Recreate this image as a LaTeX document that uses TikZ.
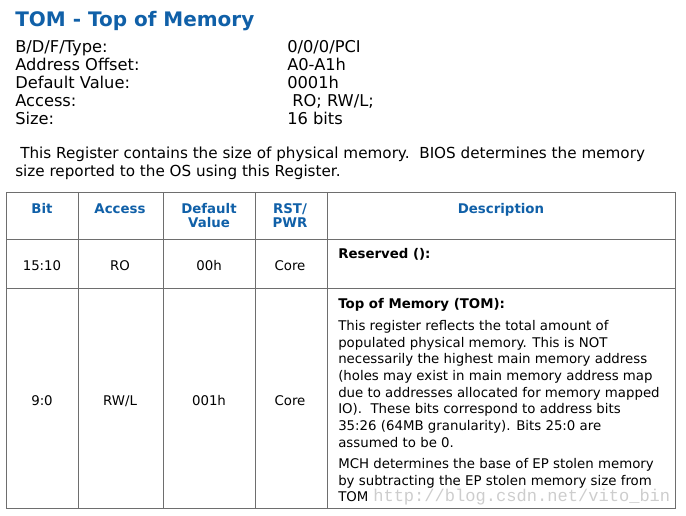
\documentclass[tikz,border=0pt]{standalone}
\usepackage{fontspec}
\setmainfont{DejaVu Sans}
\newfontfamily\markfont{Liberation Mono}
\usepackage{xcolor}
\definecolor{intelblue}{RGB}{16,96,168}
\definecolor{rulegray}{RGB}{110,110,110}
\definecolor{markgray}{RGB}{205,205,205}

\tikzset{
  txt/.style={inner sep=0pt,anchor=base west,font=\fontsize{10}{12.5}\selectfont},
  info/.style={txt,font=\fontsize{12.2}{13.5}\selectfont},
  cell/.style={inner sep=0pt,anchor=base,font=\fontsize{10}{12.5}\selectfont},
  head/.style={inner sep=0pt,anchor=base,align=center,text=intelblue,
    font=\fontsize{10}{10.5}\selectfont\bfseries},
  rule/.style={rulegray,line width=0.75pt}
}

\begin{document}
\begin{tikzpicture}[x=0.75pt,y=-0.75pt]
        \useasboundingbox (0,0) rectangle (686,515);

        % title
        \node[txt,text=intelblue,font=\fontsize{15}{16}\selectfont\bfseries] (title) at (15,26) {TOM - Top of Memory};

        % register info
        \node[info] (bdf) at (15,52) {B/D/F/Type:};
        \node[info] (offs) at (15,70) {Address Offset:};
        \node[info] (defv) at (15,88) {Default Value:};
        \node[info] (acc) at (15,106) {Access:};
        \node[info] (size) at (15,124) {Size:};
        \node[info] (bdfval) at (287,52) {0/0/0/PCI};
        \node[info] (offsval) at (287,70) {A0-A1h};
        \node[info] (defvval) at (287,88) {0001h};
        \node[info] (accval) at (292,106) {RO; RW/L;};
        \node[info] (sizeval) at (287,124) {16 bits};

        % intro text
        \node[info,font=\fontsize{11.4}{13.5}\selectfont] (intro1) at (20,158) {This Register contains the size of physical memory.\ \ BIOS determines the memory};
        \node[info,font=\fontsize{11.4}{13.5}\selectfont] (intro2) at (15,176) {size reported to the OS using this Register.};

        % table rules
        \draw[rule] (6,192) rectangle (675,508);
        \draw[rule] (6,239) -- (675,239);
        \draw[rule] (6,288) -- (675,288);
        \draw[rule] (78,192) -- (78,508);
        \draw[rule] (163,192) -- (163,508);
        \draw[rule] (255,192) -- (255,508);
        \draw[rule] (327,192) -- (327,508);

        % header
        \node[head] (hbit) at (42,213) {Bit};
        \node[head] (hacc) at (120,213) {Access};
        \node[head] (hdef) at (209,227) {Default\\Value};
        \node[head] (hrst) at (290,227) {RST/\\PWR};
        \node[head] (hdesc) at (501,213) {Description};

        % row 15:10
        \node[cell] (bitA) at (42,270) {15:10};
        \node[cell] (accA) at (120,270) {RO};
        \node[cell] (defA) at (209,270) {00h};
        \node[cell] (rstA) at (290,270) {Core};
        \node[txt,font=\fontsize{10}{12.5}\selectfont\bfseries] (descA) at (338,258) {Reserved ():};

        % row 9:0
        \node[cell] (bitB) at (42,405) {9:0};
        \node[cell] (accB) at (120,405) {RW/L};
        \node[cell] (defB) at (209,405) {001h};
        \node[cell] (rstB) at (290,405) {Core};
        \node[txt,font=\fontsize{10}{12.5}\selectfont\bfseries] (descB) at (338,308) {Top of Memory (TOM):};
        \node[txt,align=left,anchor=north west] (descB1) at (338,320) {This register reflects the total amount of\\
          populated physical memory. This is NOT\\
          necessarily the highest main memory address\\
          (holes may exist in main memory address map\\
          due to addresses allocated for memory mapped\\
          IO).\ \ These bits correspond to address bits\\
          35:26 (64MB granularity). Bits 25:0 are\\
          assumed to be 0.};
        \node[txt,align=left,anchor=north west] (descB2) at (338,458) {MCH determines the base of EP stolen memory\\
          by subtracting the EP stolen memory size from\\
          TOM};

        % watermark
        \node[txt,text=markgray,font=\markfont\fontsize{12.8}{14}\selectfont] (mark) at (373,501) {http://blog.csdn.net/vito\_bin};
    \end{tikzpicture}
\end{document}
